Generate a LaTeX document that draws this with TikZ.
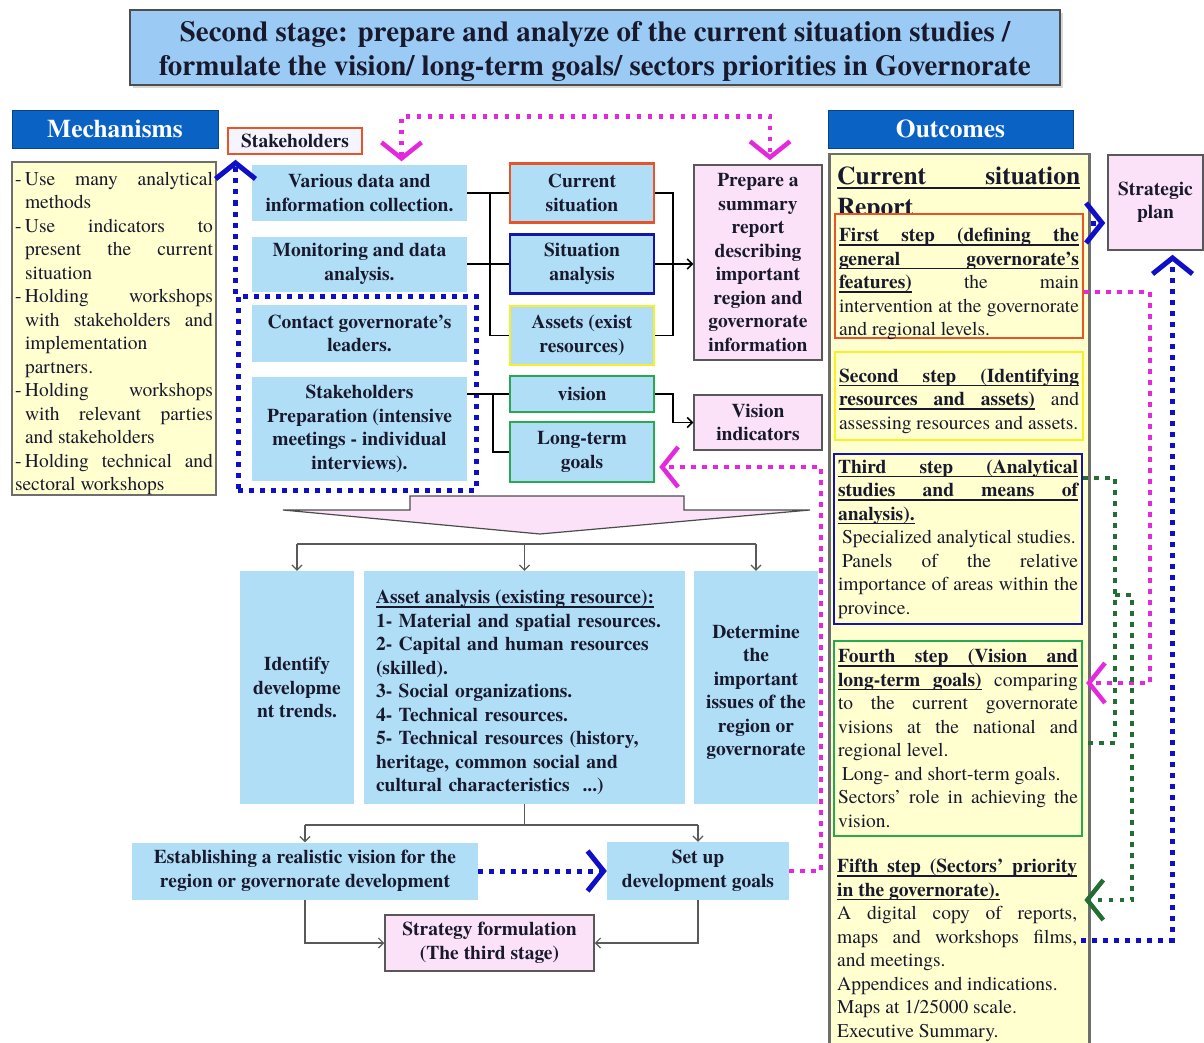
\documentclass[tikz,border=0pt]{standalone}
\usepackage{fontspec}
\IfFontExistsTF{texgyretermes-regular.otf}
  {\setmainfont{texgyretermes}[Extension=.otf,UprightFont=*-regular,BoldFont=*-bold,
     ItalicFont=*-italic,BoldItalicFont=*-bolditalic]}
  {\setmainfont{Liberation Serif}}
\usetikzlibrary{arrows.meta,shadows}

\definecolor{lblue}{RGB}{176,222,246}
\definecolor{titleblue}{RGB}{155,203,245}
\definecolor{hdrblue}{RGB}{10,98,196}
\definecolor{lpink}{RGB}{252,226,248}
\definecolor{lyellow}{RGB}{255,255,208}
\definecolor{ink}{RGB}{25,25,45}
\definecolor{mag}{RGB}{228,40,222}
\definecolor{dblue}{RGB}{15,15,200}
\definecolor{dgreen}{RGB}{35,110,50}
\definecolor{bred}{RGB}{232,84,40}
\definecolor{bnavy}{RGB}{20,20,175}
\definecolor{byellow}{RGB}{245,240,40}
\definecolor{bgreen}{RGB}{40,168,80}
\definecolor{frame}{RGB}{110,110,110}

\newcommand\bodyfs{\fontsize{19.5}{23.5}\selectfont}
\newcommand\titlefs{\fontsize{29}{34}\selectfont}
\newcommand\hdrfs{\fontsize{25.5}{30}\selectfont}
\newcommand\rptfs{\fontsize{25.5}{31}\selectfont}
\newcommand\mitem[1]{\par\noindent\hangindent=10pt\hangafter=1\makebox[10pt][l]{-}#1}
\hyphenpenalty=10000
\exhyphenpenalty=10000
\tolerance=9999
\parindent=0pt

% underlining that stretches with justified interword spaces
\makeatletter
\newcommand\ulbox[1]{\setbox0\hbox{#1}\rlap{\vrule height -2.6pt depth 4.1pt width \wd0}\box0}
\newcommand\ulskip{\leaders\hrule height -2.6pt depth 4.1pt\hskip\fontdimen2\font plus\fontdimen3\font minus\fontdimen4\font}
\def\ul#1{\ul@word#1 \@nil}
\def\ul@word#1 #2\@nil{\ulbox{#1}\ifx\relax#2\relax\else\ulskip\ul@word#2\@nil\fi}
\makeatother

\tikzset{
  chev/.tip={Straight Barb[length=16pt,width=40pt]},
  gtip/.tip={Straight Barb[length=5pt,width=10pt]},
  wh/.style 2 args={minimum width=#1pt,minimum height=#2pt},
  every node/.style={text=ink,inner sep=3pt},
  bluebox/.style={fill=lblue,font=\bfseries\bodyfs,align=center},
  pinkbox/.style={fill=lpink,draw=frame!80!black,line width=1.5pt,font=\bfseries\bodyfs,align=center},
  midbox/.style={fill=lblue,line width=2.5pt,font=\bfseries\bodyfs,align=center,wh={144}{#1}},
  hdr/.style={fill=hdrblue,draw=hdrblue!70!black,text=white,font=\bfseries\hdrfs},
  ybody/.style={fill=lyellow,draw=frame,line width=2.5pt},
  stepbox/.style={fill=lyellow,line width=2.2pt,text width=240pt,align=justify,
    font=\bodyfs,inner xsep=4pt,inner ysep=3pt},
  conn/.style={draw=black,line width=1.5pt},
  gconn/.style={draw=gray!70!black,line width=1.2pt},
  pinkdot/.style={draw=mag,line width=4.5pt,dash pattern=on 4.5pt off 6.5pt},
  bluedot/.style={draw=dblue,line width=5pt,dash pattern=on 5pt off 6pt},
  greendot/.style={draw=dgreen,line width=4.5pt,dash pattern=on 4.5pt off 6.5pt},
}

\begin{document}
\begin{tikzpicture}[x=1pt,y=-1pt]
\useasboundingbox (0,0) rectangle (1204,1043);

% title banner
\node[fill=titleblue,draw=frame!70!black,line width=1.5pt,wh={930}{75},
      drop shadow={shadow xshift=3pt,shadow yshift=-3pt,fill=gray!60}]
  (titlebox) at (595,47.5) {};
\node[font=\bfseries\titlefs,align=center] (title) at (595,51)
  {Second stage: prepare and analyze of the current situation studies /\\
   formulate the vision/ long-term goals/ sectors priorities in Governorate};

% mechanisms column
\node[hdr,wh={206}{38}] (mechhdr) at (115,129) {Mechanisms};
\node[ybody,wh={204}{331},text width=198pt,align=justify,font=\bodyfs,inner xsep=3pt,inner ysep=0pt]
  (mech) at (114,328.5) {%
  \mitem{Use many analytical\linebreak methods}
  \mitem{Use indicators to\linebreak present the current\linebreak situation}
  \mitem{Holding workshops\linebreak with stakeholders and\linebreak implementation\newline partners.}
  \mitem{Holding workshops\linebreak with relevant parties\linebreak and stakeholders}
  \mitem{Holding technical and\linebreak sectoral workshops}};

\node[draw=bred,fill=blue!4,line width=1.5pt,font=\bfseries\bodyfs,wh={134}{26},inner sep=1pt]
  (stake) at (295,141) {Stakeholders};

% input activities
\node[bluebox,wh={215}{55}] (various) at (359.5,193) {Various data and\\information collection.};
\node[bluebox,wh={215}{55}] (monitor) at (359.5,264) {Monitoring and data\\analysis.};
\node[bluebox,wh={215}{57}] (contact) at (359.5,333.5) {Contact governorate's\\leaders.};
\node[bluebox,wh={215}{104}] (prep) at (359.5,429)
  {Stakeholders\\Preparation (intensive\\meetings - individual\\interviews).};
\node[bluedot,wh={238}{194}] (leaders) at (357,393) {};

% study topics
\node[midbox=59,draw=bred] (cursit) at (582,193) {Current\\situation};
\node[midbox=59,draw=bnavy] (sitan) at (582,264) {Situation\\analysis};
\node[midbox=59,draw=byellow] (assets) at (582,335.5) {Assets (exist\\resources)};
\node[midbox=36,draw=bgreen] (vision) at (582,394) {vision};
\node[midbox=60,draw=bgreen] (ltgoals) at (582,452) {Long-term\\goals};

\node[pinkbox,wh={128}{195}] (prepare) at (758,262.5)
  {Prepare a\\summary\\report\\describing\\important\\region and\\governorate\\information};
\node[pinkbox,wh={128}{55}] (visind) at (758,422.5) {Vision\\indicators};

% outcomes column
\node[hdr,wh={245}{38}] (outhdr) at (950.5,129) {Outcomes};
\node[ybody,wh={260}{900},anchor=north west] (outbody) at (828,153) {};
\node[anchor=north west,text width=243pt,align=justify,font=\bfseries\rptfs,inner sep=0pt]
  (rpt) at (837,167) {\ul{Current situation}\linebreak\ul{Report}};

\node[stepbox,draw=bred,minimum height=124pt] (step1) at (959,276)
  {\rule{0pt}{23.5pt}\textbf{\ul{First step (defining the}}\linebreak
   \textbf{\ul{general governorate's}}\linebreak
   \textbf{\ul{features)}\ulskip}the main\linebreak
   intervention at the governorate\linebreak and regional levels.\par\vspace{-6pt}};
\node[stepbox,draw=byellow,minimum height=88pt] (step2) at (959,396)
  {\rule{0pt}{23.5pt}\textbf{\ul{Second step (Identifying}}\linebreak
   \textbf{\ul{resources and assets)}\ulskip}and\linebreak
   assessing resources and assets.};
\node[stepbox,draw=bnavy,minimum height=170pt] (step3) at (958,539)
  {\textbf{\ul{Third step (Analytical}}\linebreak
   \textbf{\ul{studies and means of}}\linebreak
   \textbf{\ul{analysis).}}\par
   \hspace*{4pt}Specialized analytical studies.\par
   \hspace*{4pt}Panels of the relative\linebreak importance of areas within the\linebreak province.};
\node[stepbox,draw=bgreen,minimum height=195pt] (step4) at (958,738.5)
  {\textbf{\ul{Fourth step (Vision and}}\linebreak
   \textbf{\ul{long-term goals)}\ulskip}comparing\linebreak
   to the current governorate\linebreak visions at the national and\linebreak regional level.\par
   \hspace*{4pt}Long- and short-term goals.\par
   Sectors' role in achieving the\linebreak vision.};
\node[anchor=north west,text width=240pt,align=justify,font=\bodyfs,inner xsep=4pt,inner ysep=0pt]
  (step5) at (833,859)
  {\textbf{\ul{Fifth step (Sectors' priority}}\linebreak
   \textbf{\ul{in the governorate).}}\par
   A digital copy of reports,\linebreak maps and workshops films,\linebreak and meetings.\par
   Appendices and indications.\par
   Maps at 1/25000 scale.\par
   Executive Summary.};

\node[pinkbox,wh={95}{95}] (strat) at (1155.5,202.5) {Strategic\\plan};

% analysis results
\draw[fill=lpink,draw=gray!60!black,line width=1.2pt]
  (410,496) -- (684,496) -- (684,510) -- (810,510) -- (540,534) -- (283,510) -- (410,510) -- cycle;

\node[bluebox,wh={114}{233}] (ident) at (297,687.5) {Identify\\developme\\nt trends.};
\node[bluebox,wh={321}{233},text width=297pt,align=left] (asset) at (524.5,687.5)
  {\rule{0pt}{23.5pt}\ul{Asset analysis (existing resource):}\\
   1- Material and spatial resources.\\
   2- Capital and human resources\\
   (skilled).\\
   3- Social organizations.\\
   4- Technical resources.\\
   5- Technical resources (history,\\
   heritage, common social and\\
   cultural characteristics\ \ ...)};
\node[bluebox,wh={124}{233}] (determ) at (756,687.5)
  {\rule{0pt}{23.5pt}Determine\\the\\important\\issues of the\\region or\\governorate};

\node[bluebox,wh={346}{57}] (establish) at (305,871)
  {Establishing a realistic vision for the\\region or governorate development};
\node[bluebox,wh={182}{58}] (setup) at (698,871) {Set up\\development goals};
\node[pinkbox,wh={209}{56}] (strategy) at (489.5,943) {Strategy formulation\\(The third stage)};

% connectors: upper part
\coordinate (bxa) at (490,0);
\coordinate (bxb) at (673,0);
\coordinate (bxc) at (493,0);
\draw[conn] (various.east) -- (cursit.west);
\draw[conn] (monitor.east) -- (sitan.west);
\draw[conn] (bxa |- various.east) |- (assets.west);
\draw[conn] (cursit.east) -| (bxb |- assets.east) -- (assets.east);
\draw[conn,-gtip] (sitan.east) -- (prepare.west |- sitan.east);
\draw[conn] (prep.east |- vision.west) -- (vision.west);
\draw[conn] (bxc |- vision.west) |- (ltgoals.west);
\draw[conn,-gtip] (vision.east) -| (bxb |- visind.west) -- (visind.west);

% connectors: lower part
\draw[gconn] (ident.north |- 0,544) -- (determ.north |- 0,544);
\foreach \n in {ident,asset,determ}
  \draw[gconn,-gtip] (\n.north |- 0,544) -- (\n.north);
\draw[gconn] (asset.south) -- (asset.south |- 0,825);
\draw[gconn] (establish.north |- 0,825) -- (setup.north |- 0,825);
\draw[gconn,-gtip] (establish.north |- 0,825) -- (establish.north);
\draw[gconn,-gtip] (setup.north |- 0,825) -- (setup.north);
\draw[gconn,-gtip] (establish.south) |- (strategy.west);
\draw[gconn,-gtip] (setup.south) |- (strategy.east);

% dotted feedback links
\draw[pinkdot,chev-chev] ([shift={(42,-4)}]various.north) -- ++(0,-45)
  -| ([shift={(12,-4)}]prepare.north);
\coordinate (stk) at (leaders.north west |- stake.south);
\draw[bluedot,-chev] (leaders.north west) -- ([shift={(0,5)}]stk);
\draw[bluedot,-chev] (establish.east) -- (setup.west);

\coordinate (pk) at (821,0);
\coordinate (lt) at ([shift={(4,15)}]ltgoals.east);
\draw[pinkdot,-chev] (setup.east) -| (pk |- lt) -- (lt);

\coordinate (pk2) at (1150,0);
\coordinate (s4) at ([shift={(3,-55.5)}]step4.east);
\draw[pinkdot,-chev] ([shift={(0,16)}]step1.east) -| (pk2 |- s4) -- (s4);

\coordinate (gx1) at (1115,0);
\coordinate (gx2) at (1132,0);
\coordinate (g4) at ([shift={(0,4.5)}]step4.east);
\draw[greendot] ([shift={(0,-61)}]step3.east) -| (gx1 |- g4) -- (g4);
\coordinate (g5) at ([shift={(3,0)}]step5.east |- 0,900);
\draw[greendot,-chev] (gx1 |- 0,595) -| (gx2 |- g5) -- (g5);

\draw[bluedot,-chev] (step5.east |- 0,940) -| ([shift={(17,4)}]strat.south);
\coordinate (sp) at (strat.west |- 0,223);
\draw[bluedot,-chev] (outbody.east |- 0,223) -- ([shift={(-2,0)}]sp);
\end{tikzpicture}
\end{document}
